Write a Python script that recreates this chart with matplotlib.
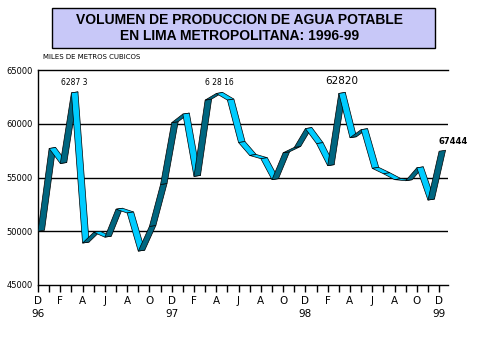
import matplotlib
matplotlib.use("Agg")
import matplotlib.pyplot as plt
from matplotlib.patches import Polygon, Rectangle

# produccion mensual (miles de m3), dic 1996 - dic 1999
volumen = [50000, 57700, 56300, 62873, 48900, 49900, 49450, 52050, 51700, 48150, 50450, 54350,
           60100, 60900, 55100, 62200, 62816, 62200, 58250, 57050, 56750, 54800, 57300, 57800,
           59550, 58150, 56100, 62820, 58700, 59450, 55850, 55350, 54800, 54700, 55900, 52900,
           57444]
meses = ["D", "F", "A", "J", "A", "O"] * 6 + ["D"]
anios = {0: "96", 12: "97", 24: "98", 36: "99"}
etiquetas = [(3, "6287 3"), (16, "6 28 16"), (27, "62820"), (36, "67444")]
y_ticks = [45000, 50000, 55000, 60000, 65000]

oscuro = "#006680"
claro = "#00ccff"

fig = plt.figure(figsize=(4.79, 3.57), dpi=100)
W, H = 479, 357
ax = fig.add_axes([38 / W, 1 - 285 / H, (448 - 38) / W, (285 - 70) / H])
ax.set_xlim(0, 36.8)
ax.set_ylim(45000, 65000)

# relieve del trazo (en unidades de datos)
px_x = 36.8 / 410
px_y = 20000 / 215
dx = 6.5 * px_x
dy = 1 * px_y

x = list(range(len(volumen)))
for i in range(len(volumen) - 1):
    x0, y0, x1, y1 = x[i], volumen[i], x[i + 1], volumen[i + 1]
    color = oscuro if y1 > y0 else claro
    quad = [(x0, y0), (x1, y1), (x1 + dx, y1 + dy), (x0 + dx, y0 + dy)]
    ax.add_patch(Polygon(quad, closed=True, facecolor=color, edgecolor="black",
                         linewidth=0.5, zorder=3 + i * 0.01))

for v in [50000, 55000, 60000]:
    ax.axhline(v, color="black", linewidth=1, zorder=1)

ax.spines["right"].set_visible(False)
for sp in ["left", "bottom", "top"]:
    ax.spines[sp].set_linewidth(1)

ax.set_yticks(y_ticks)
ax.set_yticklabels([str(v) for v in y_ticks], fontsize=6, family="DejaVu Sans")
ax.tick_params(axis="y", length=0, pad=4)

ax.set_xticks(list(range(0, 37, 2)))
ax.set_xticklabels([meses[i // 2] + ("\n" + anios[i] if i in anios else "\n ")
                    for i in range(0, 37, 2)], fontsize=7.5, linespacing=1.3)
ax.set_xticks(list(range(1, 37, 2)), minor=True)
ax.tick_params(axis="x", which="both", direction="out", length=5, width=1, pad=3)

for i, txt in etiquetas:
    if i == 36:
        ax.annotate(txt, (i, volumen[i]), xytext=(10, 5), textcoords="offset points",
                    ha="center", fontsize=6, fontweight="bold")
    elif txt == "62820":
        ax.annotate(txt, (i, volumen[i]), xytext=(2, 6.5), textcoords="offset points",
                    ha="center", fontsize=7.5)
    else:
        ax.annotate(txt, (i, volumen[i]), xytext=(2, 6), textcoords="offset points",
                    ha="center", fontsize=5.5)

# titulo en recuadro
fig.patches.append(Rectangle((52 / W, 1 - 48 / H), (435 - 52) / W, 40 / H,
                             transform=fig.transFigure, facecolor="#c8c8f8",
                             edgecolor="black", linewidth=1))
fig.text(240 / W, 1 - 28 / H, "VOLUMEN DE PRODUCCION DE AGUA POTABLE\nEN LIMA METROPOLITANA: 1996-99",
         ha="center", va="center", fontsize=10, fontweight="bold",
         family="Liberation Sans", linespacing=1.15)
fig.text(43 / W, 1 - 57 / H, "MILES DE METROS CUBICOS", fontsize=5, va="center")

fig.savefig("out.png", dpi=100)
